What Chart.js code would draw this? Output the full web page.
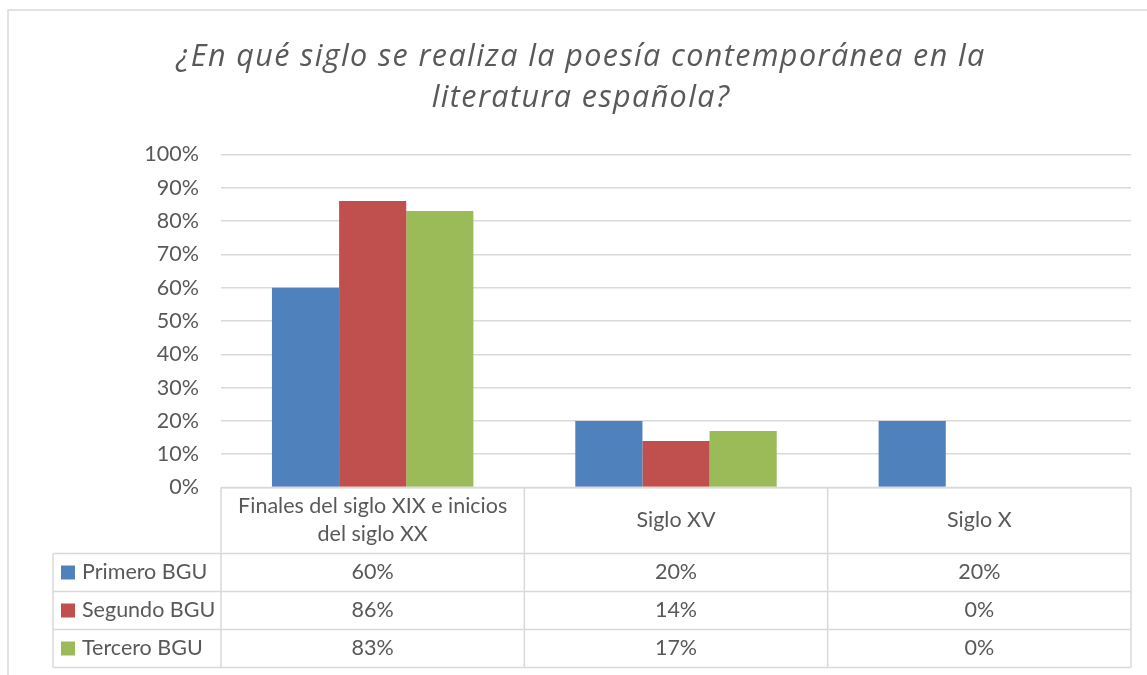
<!DOCTYPE html>
<html>
<head>
<meta charset="utf-8">
<script src="https://cdn.jsdelivr.net/npm/chart.js@4"></script>
<style>
  html, body { margin: 0; padding: 0; background: #fff; }
  #wrap { width: 1147px; height: 675px; }
</style>
</head>
<body>
<div id="wrap"><canvas id="chart" width="1147" height="675"></canvas></div>
<script>
// ---- data ----
const categories = [
  ['Finales del siglo XIX e inicios', 'del siglo XX'],
  ['Siglo XV'],
  ['Siglo X'],
];
const seriesNames = ['Primero BGU', 'Segundo BGU', 'Tercero BGU'];
const primero = [60, 20, 20];
const segundo = [86, 14, 0];
const tercero = [83, 17, 0];
const yTicks = [0, 10, 20, 30, 40, 50, 60, 70, 80, 90, 100];
const titleLines = ['¿En qué siglo se realiza la poesía contemporánea en la', 'literatura española?'];

const COLORS = ['#4F81BD', '#C0504D', '#9BBB59'];
const TEXT = '#595959';
const LINE = '#D9D9D9';
const FONT = 'Lato, "Open Sans", sans-serif';
const FS = 21.5;

// title: Excel draws it wide and airy, so it is set with a little letter spacing
const titlePlugin = {
  id: 'wideTitle',
  afterDraw(chart) {
    const ctx = chart.ctx;
    ctx.save();
    ctx.fillStyle = TEXT;
    ctx.font = 'italic 400 30.5px "Open Sans", sans-serif';
    ctx.textAlign = 'center';
    ctx.textBaseline = 'alphabetic';
    ctx.letterSpacing = '1.4px';
    const cx = 581;
    titleLines.forEach((line, i) => ctx.fillText(line, cx, 66 + i * 40.5));
    ctx.restore();
  }
};

// draws the outer frame and the Excel-style data table under the plot
const tablePlugin = {
  id: 'dataTable',
  afterDraw(chart) {
    const ctx = chart.ctx;
    const area = chart.chartArea;
    const n = chart.data.labels.length;
    const colW = area.width / n;
    const headTop = area.bottom, headBot = area.bottom + 66, rowH = 38;
    const tableLeft = 53;
    const rowsBot = headBot + rowH * seriesNames.length;

    ctx.save();
    // outer frame
    ctx.strokeStyle = LINE;
    ctx.lineWidth = 1.5;
    ctx.strokeRect(8, 10, 1160, 700);

    // table lines
    ctx.beginPath();
    ctx.moveTo(area.left, headTop); ctx.lineTo(area.right, headTop);
    for (let r = 0; r <= seriesNames.length; r++) {
      const y = headBot + r * rowH;
      ctx.moveTo(tableLeft, y); ctx.lineTo(area.right, y);
    }
    for (let i = 0; i <= n; i++) {
      const x = area.left + i * colW;
      ctx.moveTo(x, headTop); ctx.lineTo(x, rowsBot);
    }
    ctx.moveTo(tableLeft, headBot); ctx.lineTo(tableLeft, rowsBot);
    ctx.stroke();

    ctx.fillStyle = TEXT;
    ctx.font = FS + 'px ' + FONT;
    ctx.textBaseline = 'middle';
    ctx.textAlign = 'center';

    // header: category labels
    chart.data.labels.forEach((lab, i) => {
      const cx = chart.scales.x.getPixelForValue(i);
      const midY = (headTop + headBot) / 2;
      const lh = 28;
      lab.forEach((line, k) => {
        ctx.fillText(line, cx, midY + (k - (lab.length - 1) / 2) * lh);
      });
    });

    // rows: legend key + values
    chart.data.datasets.forEach((ds, r) => {
      const cy = headBot + r * rowH + rowH / 2;
      ctx.fillStyle = ds.backgroundColor;
      ctx.fillRect(61, cy - 7, 14, 14);
      ctx.fillStyle = TEXT;
      ctx.textAlign = 'left';
      ctx.fillText(ds.label, 82, cy);
      ctx.textAlign = 'center';
      ds.data.forEach((v, i) => {
        ctx.fillText(v + '%', chart.scales.x.getPixelForValue(i), cy);
      });
    });
    ctx.restore();
  }
};

new Chart(document.getElementById('chart'), {
  type: 'bar',
  data: {
    labels: categories,
    datasets: [
      { label: seriesNames[0], data: primero, backgroundColor: COLORS[0] },
      { label: seriesNames[1], data: segundo, backgroundColor: COLORS[1] },
      { label: seriesNames[2], data: tercero, backgroundColor: COLORS[2] },
    ]
  },
  options: {
    responsive: false,
    animation: false,
    categoryPercentage: 0.664,
    barPercentage: 1,
    layout: { padding: { left: 31, right: 16, top: 154.5, bottom: 187.5 } },
    plugins: {
      legend: { display: false },
      tooltip: { enabled: false },
      title: { display: false },
    },
    scales: {
      x: { display: false },
      y: {
        min: 0, max: 100,
        afterBuildTicks: s => { s.ticks = yTicks.map(v => ({ value: v })); },
        afterFit: s => { s.width = 190; },
        border: { display: false },
        grid: { color: LINE, lineWidth: 1.5, drawTicks: false },
        ticks: {
          padding: 22,
          color: TEXT,
          font: { family: FONT, size: FS },
          callback: v => v + '%',
        },
      },
    },
  },
  plugins: [tablePlugin, titlePlugin],
});
</script>
</body>
</html>
